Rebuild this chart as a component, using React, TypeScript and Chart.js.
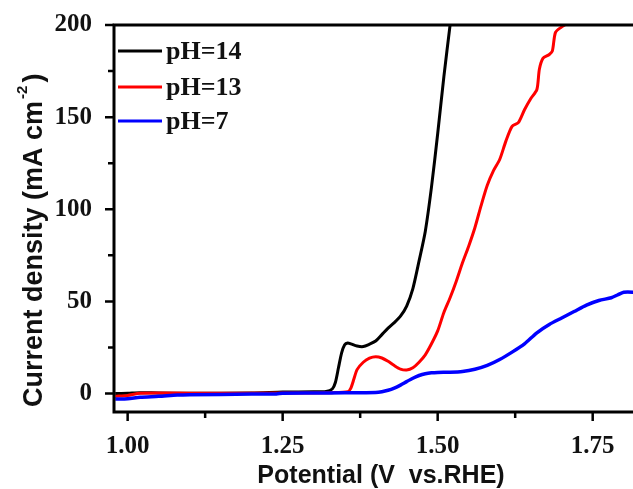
import React, { useEffect, useRef } from "react";
import { Chart, registerables } from "chart.js";

Chart.register(...registerables);

const seriesLabels = ["pH=14", "pH=13", "pH=7"];
const seriesColors = ["#000000", "#ff0000", "#0000ff"];

const ph14X = [0.98, 1.0, 1.02, 1.05, 1.1, 1.2, 1.25, 1.3, 1.32, 1.33, 1.335, 1.34, 1.345, 1.35, 1.355, 1.36, 1.37, 1.38, 1.39, 1.4, 1.41, 1.42, 1.43, 1.44, 1.45, 1.46, 1.47, 1.48, 1.49, 1.5, 1.51, 1.52];
const ph14Y = [0.0, 0.2, 0.5, 0.3, 0.2, 0.3, 0.8, 1.0, 1.2, 2.5, 6, 14, 22, 26.5, 27.5, 27, 25.8, 25.5, 26.8, 28.5, 32, 35.5, 38.5, 42, 47.5, 57, 72, 88, 112, 141, 172, 200];

const ph13X = [0.98, 1.0, 1.02, 1.1, 1.25, 1.33, 1.355, 1.36, 1.365, 1.37, 1.38, 1.39, 1.4, 1.41, 1.42, 1.43, 1.44, 1.45, 1.46, 1.47, 1.48, 1.49, 1.5, 1.51, 1.52, 1.53, 1.54, 1.55, 1.56, 1.57, 1.58, 1.59, 1.6, 1.61, 1.62, 1.63, 1.64, 1.65, 1.66, 1.664, 1.67, 1.68, 1.685, 1.69, 1.7, 1.705];
const ph13Y = [-1.5, -1.0, 0.2, 0.2, 0.3, 0.5, 1, 3, 8, 13, 17, 19.2, 20, 19.3, 17.5, 15.2, 13.3, 12.8, 14, 17, 21, 27, 34, 44, 52, 61, 71, 80, 90, 102, 113, 121, 127, 137, 145, 147, 154, 160, 165, 176, 182, 184, 186, 196, 199, 200];

const ph7X = [0.98, 1.0, 1.02, 1.05, 1.08, 1.1, 1.2, 1.24, 1.25, 1.3, 1.35, 1.4, 1.41, 1.42, 1.43, 1.44, 1.45, 1.46, 1.47, 1.48, 1.49, 1.5, 1.52, 1.54, 1.56, 1.58, 1.6, 1.62, 1.64, 1.66, 1.68, 1.7, 1.72, 1.74, 1.76, 1.78, 1.79, 1.8, 1.82];
const ph7Y = [-3, -2.8, -2, -1.5, -0.8, -0.6, -0.3, -0.2, 0.2, 0.3, 0.4, 0.6, 1, 1.8, 3, 4.6, 6.5, 8.3, 9.8, 10.8, 11.3, 11.5, 11.6, 12, 13.2, 15.3, 18.5, 22.5, 27, 33, 37.5, 41, 44.5, 48, 50.5, 52, 53.5, 55, 55];

const xTicks = [1.0, 1.125, 1.25, 1.375, 1.5, 1.625, 1.75];
const xMajor = [1.0, 1.25, 1.5, 1.75];
const yTicks = [0, 25, 50, 75, 100, 125, 150, 175, 200];
const yMajor = [0, 50, 100, 150, 200];

const xTitle = "Potential (V  vs.RHE)";
const yTitleMain = "Current density (mA cm";
const yTitleSup = "-2";
const yTitleEnd = ")";

function toPoints(xs: number[], ys: number[]) {
  return xs.map((x, i) => ({ x, y: ys[i] }));
}

const decorPlugin = {
  id: "decor",
  afterDraw(chart: any) {
    const ctx = chart.ctx;
    const area = chart.chartArea;
    const xs = chart.scales.x;
    const ys = chart.scales.y;
    ctx.save();
    ctx.strokeStyle = "#000";
    ctx.lineWidth = 3;
    ctx.lineCap = "butt";
    ctx.beginPath();
    ctx.moveTo(area.left, area.top);
    ctx.lineTo(area.left, area.bottom + 1.5);
    ctx.moveTo(area.left - 1.5, area.bottom);
    ctx.lineTo(area.right, area.bottom);
    ctx.moveTo(area.left - 1.5, area.top);
    ctx.lineTo(area.right, area.top);
    ctx.stroke();
    ctx.lineWidth = 2.5;
    ctx.beginPath();
    xTicks.forEach((v) => {
      const px = xs.getPixelForValue(v);
      const len = xMajor.includes(v) ? 9 : 6;
      ctx.moveTo(px, area.bottom);
      ctx.lineTo(px, area.bottom + len);
    });
    yTicks.forEach((v) => {
      const py = ys.getPixelForValue(v);
      const len = yMajor.includes(v) ? 9 : 6;
      ctx.moveTo(area.left, py);
      ctx.lineTo(area.left - len, py);
    });
    ctx.stroke();

    const legendY = [51, 87, 121];
    ctx.font = "bold 26px 'Liberation Serif'";
    ctx.textBaseline = "alphabetic";
    ctx.textAlign = "left";
    seriesLabels.forEach((lab, i) => {
      ctx.strokeStyle = seriesColors[i];
      ctx.lineWidth = 3;
      ctx.beginPath();
      ctx.moveTo(118, legendY[i]);
      ctx.lineTo(162, legendY[i]);
      ctx.stroke();
      ctx.fillStyle = "#111";
      ctx.fillText(lab, 166, legendY[i] + 8);
    });

    ctx.fillStyle = "#111";
    ctx.font = "bold 25px 'Liberation Sans'";
    ctx.textAlign = "center";
    ctx.fillText(xTitle, 381, 483);

    ctx.translate(42, 407);
    ctx.rotate(-Math.PI / 2);
    ctx.textAlign = "left";
    ctx.font = "bold 27px 'Liberation Sans'";
    ctx.fillText(yTitleMain, 0, 0);
    let w = ctx.measureText(yTitleMain).width;
    ctx.font = "bold 15px 'Liberation Sans'";
    ctx.fillText(yTitleSup, w + 2, -15);
    w += ctx.measureText(yTitleSup).width + 5;
    ctx.font = "bold 27px 'Liberation Sans'";
    ctx.fillText(yTitleEnd, w, 0);
    ctx.restore();
  },
};

export default function App() {
  const ref = useRef<HTMLCanvasElement | null>(null);
  useEffect(() => {
    if (!ref.current) return;
    const chart = new Chart(ref.current, {
      type: "line",
      data: {
        datasets: [
          { label: seriesLabels[0], data: toPoints(ph14X, ph14Y), borderColor: seriesColors[0], borderWidth: 3, pointRadius: 0, tension: 0.25, order: 3 },
          { label: seriesLabels[1], data: toPoints(ph13X, ph13Y), borderColor: seriesColors[1], borderWidth: 3, pointRadius: 0, tension: 0.25, order: 2 },
          { label: seriesLabels[2], data: toPoints(ph7X, ph7Y), borderColor: seriesColors[2], borderWidth: 3.5, pointRadius: 0, tension: 0.25, order: 1 },
        ],
      },
      options: {
        responsive: false,
        animation: false,
        devicePixelRatio: 1,
        layout: { padding: { top: 25, right: 0, left: 0, bottom: 0 } },
        plugins: { legend: { display: false }, tooltip: { enabled: false } },
        scales: {
          x: {
            type: "linear",
            min: 0.978,
            max: 1.815,
            grid: { display: false },
            border: { display: false },
            afterBuildTicks: (s: any) => {
              s.ticks = xTicks.map((v) => ({ value: v }));
            },
            afterFit: (s: any) => {
              s.height = 77;
              s.paddingLeft = 0;
              s.paddingRight = 0;
            },
            ticks: {
              autoSkip: false,
              maxRotation: 0,
              padding: 12,
              color: "#111",
              font: { family: "'Liberation Serif'", size: 25, weight: "bold" },
              callback: (v: any) => (xMajor.includes(Number(v)) ? Number(v).toFixed(2) : ""),
            },
          },
          y: {
            type: "linear",
            min: -10,
            max: 200,
            grid: { display: false },
            border: { display: false },
            afterBuildTicks: (s: any) => {
              s.ticks = yTicks.map((v) => ({ value: v }));
            },
            afterFit: (s: any) => {
              s.width = 114;
              s.paddingTop = 0;
              s.paddingBottom = 0;
            },
            ticks: {
              autoSkip: false,
              padding: 14,
              color: "#111",
              font: { family: "'Liberation Serif'", size: 25, weight: "bold" },
              callback: (v: any) => (yMajor.includes(Number(v)) ? String(v) : ""),
            },
          },
        },
      },
      plugins: [decorPlugin],
    } as any);
    return () => chart.destroy();
  }, []);
  return (
    <div style={{ position: "fixed", left: 0, top: 0, width: 633, height: 489, background: "#fff" }}>
      <canvas ref={ref} width={633} height={489} style={{ display: "block" }} />
    </div>
  );
}
